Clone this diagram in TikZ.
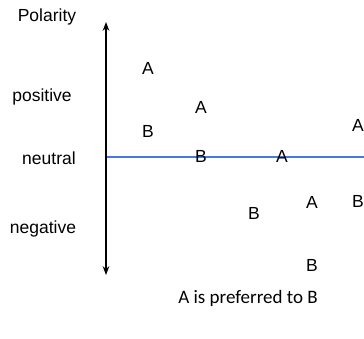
\documentclass[tikz,border=0pt]{standalone}
\usepackage{fontspec}
\setmainfont{Liberation Sans}
\newfontfamily\captionfont{Carlito}
\usepackage{xcolor}
\usetikzlibrary{arrows.meta}
\definecolor{axisblue}{RGB}{70,120,230}

\begin{document}
\begin{tikzpicture}[x=1pt,y=-1pt,
        every node/.style={inner sep=0pt, font=\fontsize{17.5}{20}\selectfont}]
    \useasboundingbox (0,0) rectangle (364,338);
    \clip (0,0) rectangle (364,338);

    % axes
    \coordinate (top) at (106,22);
    \coordinate (bot) at (106,275);
    \coordinate (zero) at (106,157);
    \coordinate (far) at (364,157);
    \draw [axisblue, line width=1.4pt] (zero) -- (far);
    \draw [line width=1.3pt][Stealth-Stealth] (top) -- (bot);

    % labels
    \node (pol) at (47,17) {Polarity};
    \node (pos) at (42,97) {positive};
    \node (neu) at (49,158) {neutral};
    \node (neg) at (43,229) {negative};

    % pairs
    \node (a1) at (148,68) {A};
    \node (b1) at (148,131) {B};
    \node (a2) at (201,107) {A};
    \node (b2) at (201,156) {B};
    \node (a3) at (282,156) {A};
    \node (a4) at (358,125) {A};
    \node (b3) at (254,213) {B};
    \node (a5) at (312,202) {A};
    \node (b4) at (358,201) {B};
    \node (b5) at (312,265) {B};

    \node (cap) at (248,298) {\captionfont\fontsize{19}{22}\selectfont A is preferred to B};
\end{tikzpicture}
\end{document}
